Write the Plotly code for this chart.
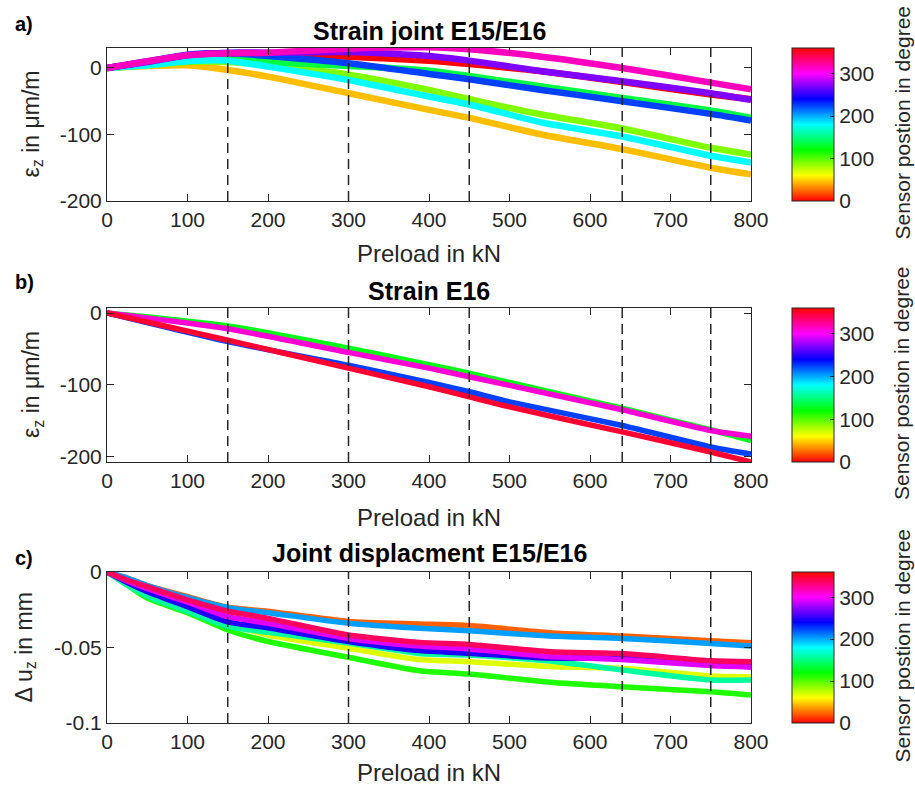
import colorsys
import plotly.graph_objects as go

W, H = 915, 786

# ---------------- data ----------------
# Panel a: Strain joint E15/E16
preload_a = [0, 50, 100, 150, 200, 300, 400, 450, 540, 640, 750, 800]
angles_a = [0, 45, 90, 135, 180, 225, 270, 315]
strain_a_0 = [0, 9, 19, 22, 21, 17, 11, 6, -5, -21, -40, -47]
strain_a_45 = [0, 3, 4, -3, -13, -38, -63, -75, -100, -122, -150, -160]
strain_a_90 = [0, 4, 9, 9, 4, -10, -33, -47, -70, -91, -120, -130]
strain_a_135 = [0, 5, 11, 14, 9, 3, -4, -12, -28, -45, -64, -75]
strain_a_180 = [0, 4, 10, 11, 2, -18, -43, -55, -82, -103, -132, -142]
strain_a_225 = [0, 10, 20, 22, 18, 7, -9, -17, -33, -50, -69, -79]
strain_a_270 = [0, 9, 19, 23, 23, 24, 18, 11, -5, -20, -38, -48]
strain_a_315 = [0, 10, 19, 22, 23, 29, 31, 28, 17, 0, -22, -32]

# Panel b: Strain E16
preload_b = [0, 150, 300, 400, 450, 500, 640, 750, 800]
angles_b = [125, 225, 310, 348]
strain_b_125 = [0, -18, -49, -72, -84, -97, -133, -163, -178]
strain_b_225 = [0, -40, -73, -97, -110, -124, -157, -187, -197]
strain_b_310 = [0, -22, -55, -77, -89, -101, -135, -164, -172]
strain_b_348 = [0, -38, -77, -103, -117, -131, -166, -194, -208]

# Panel c: Joint displacement E15/E16
preload_c = [0, 25, 50, 100, 150, 200, 300, 388, 450, 550, 640, 750, 800]
angles_c = [22.5, 67.5, 112.5, 157.5, 202.5, 247.5, 292.5, 337.5]
disp_c_22 = [0, -0.004, -0.009, -0.0163, -0.0234, -0.026, -0.0327, -0.0344, -0.0355, -0.0402, -0.0424, -0.0455, -0.0468]
disp_c_67 = [0, -0.007, -0.013, -0.024, -0.034, -0.0417, -0.0505, -0.058, -0.0594, -0.0626, -0.0638, -0.0689, -0.0693]
disp_c_112 = [0, -0.0086, -0.0173, -0.027, -0.0384, -0.046, -0.0565, -0.0654, -0.0676, -0.073, -0.076, -0.0793, -0.0815]
disp_c_157 = [0, -0.0086, -0.016, -0.026, -0.036, -0.040, -0.047, -0.054, -0.055, -0.059, -0.0649, -0.0715, -0.0715]
disp_c_202 = [0, -0.004, -0.009, -0.017, -0.0236, -0.027, -0.034, -0.0373, -0.0389, -0.0424, -0.044, -0.0473, -0.049]
disp_c_247 = [0, -0.007, -0.013, -0.023, -0.033, -0.037, -0.046, -0.052, -0.0538, -0.057, -0.057, -0.060, -0.061]
disp_c_292 = [0, -0.006, -0.011, -0.020, -0.0296, -0.034, -0.044, -0.049, -0.051, -0.056, -0.058, -0.062, -0.063]
disp_c_337 = [0, -0.0053, -0.0097, -0.0185, -0.026, -0.0307, -0.0417, -0.0466, -0.048, -0.0528, -0.054, -0.0588, -0.0594]

load_stages = [150, 300, 450, 640, 750]
x_ticks = [0, 100, 200, 300, 400, 500, 600, 700, 800]
x_ticktext = ["0", "100", "200", "300", "400", "500", "600", "700", "800"]
ya_ticks = [0, -100, -200]
ya_ticktext = ["0", "-100", "-200"]
yb_ticks = [0, -100, -200]
yb_ticktext = ["0", "-100", "-200"]
yc_ticks = [0, -0.05, -0.1]
yc_ticktext = ["0", "-0.05", "-0.1"]
cb_ticks = [0, 100, 200, 300]
cb_ticktext = ["0", "100", "200", "300"]

series_a = [strain_a_0, strain_a_45, strain_a_90, strain_a_135,
            strain_a_180, strain_a_225, strain_a_270, strain_a_315]
series_b = [strain_b_125, strain_b_225, strain_b_310, strain_b_348]
series_c = [disp_c_22, disp_c_67, disp_c_112, disp_c_157,
            disp_c_202, disp_c_247, disp_c_292, disp_c_337]

# ---------------- style ----------------
FONT = "Liberation Sans, Arial, sans-serif"
TXT = "#262626"


def hsv_color(angle):
    r, g, b = colorsys.hsv_to_rgb((angle / 360.0) % 1.0, 1, 1)
    return "rgb(%d,%d,%d)" % (round(r * 255), round(g * 255), round(b * 255))


hsv_scale = [[0, "rgb(255,0,0)"], [1 / 6, "rgb(255,255,0)"], [1 / 3, "rgb(0,255,0)"],
             [1 / 2, "rgb(0,255,255)"], [2 / 3, "rgb(0,0,255)"], [5 / 6, "rgb(255,0,255)"],
             [1, "rgb(255,0,0)"]]


def px(x):
    return x / W


def py(y):
    return 1 - y / H


fig = go.Figure()

panels = [
    dict(xa="x", ya="y", xs=preload_a, angles=angles_a, series=series_a, lw=6.5,
         top=48, bot=201),
    dict(xa="x2", ya="y2", xs=preload_b, angles=angles_b, series=series_b, lw=5.5,
         top=308, bot=462),
    dict(xa="x3", ya="y3", xs=preload_c, angles=angles_c, series=series_c, lw=5.5,
         top=572, bot=723),
]

for p in panels:
    for ang, ys in zip(p["angles"], p["series"]):
        fig.add_trace(go.Scatter(x=p["xs"], y=ys, mode="lines", xaxis=p["xa"], yaxis=p["ya"],
                                 line=dict(color=hsv_color(ang), width=p["lw"],
                                           shape="spline", smoothing=0.6),
                                 showlegend=False, hoverinfo="skip"))
    # colorbar carrier
    fig.add_trace(go.Scatter(
        x=[None], y=[None], mode="markers", xaxis=p["xa"], yaxis=p["ya"], showlegend=False,
        hoverinfo="skip",
        marker=dict(color=[0], cmin=0, cmax=360, colorscale=hsv_scale, showscale=True,
                    colorbar=dict(x=px(792), xanchor="left", y=py(p["top"]), yanchor="top",
                                  len=(p["bot"] - p["top"]) / H, lenmode="fraction",
                                  thickness=42, thicknessmode="pixels", xpad=0, ypad=0,
                                  outlinewidth=1, outlinecolor=TXT,
                                  tickvals=cb_ticks, ticktext=cb_ticktext,
                                  ticks="inside", ticklen=4, tickcolor=TXT,
                                  tickfont=dict(family=FONT, size=21, color=TXT)))))

axis_common = dict(showline=True, linecolor=TXT, linewidth=1, mirror="ticks",
                   ticks="inside", ticklen=7, tickcolor=TXT, showgrid=False, zeroline=False,
                   automargin=False, tickfont=dict(family=FONT, size=21, color=TXT))

xdom = [px(107), px(751)]
layout_axes = {}
yinfo = [([-200, 30], ya_ticks, ya_ticktext), ([-208, 7], yb_ticks, yb_ticktext),
         ([-0.1, 0], yc_ticks, yc_ticktext)]
for i, p in enumerate(panels):
    sfx = "" if i == 0 else str(i + 1)
    layout_axes["xaxis" + sfx] = dict(axis_common, domain=xdom, range=[0, 800],
                                      anchor="y" + sfx, tickvals=x_ticks, ticktext=x_ticktext)
    rng, tv, tt = yinfo[i]
    layout_axes["yaxis" + sfx] = dict(axis_common, domain=[py(p["bot"]), py(p["top"])],
                                      range=rng, anchor="x" + sfx, tickvals=tv, ticktext=tt)

shapes = []
for i, p in enumerate(panels):
    sfx = "" if i == 0 else str(i + 1)
    for s in load_stages:
        shapes.append(dict(type="line", xref="x" + sfx, yref="y" + sfx + " domain",
                           x0=s, x1=s, y0=0, y1=1, layer="above",
                           line=dict(color=TXT, width=1.5, dash="10px,6px")))

annotations = []


def add_text(text, x, y, size, bold=False, angle=0):
    annotations.append(dict(text=("<b>%s</b>" % text) if bold else text, x=px(x), y=py(y),
                            xref="paper", yref="paper", xanchor="center", yanchor="middle",
                            showarrow=False, textangle=angle,
                            font=dict(family=FONT, size=size, color=TXT if not bold else "#000")))


titles = ["Strain joint E15/E16", "Strain E16", "Joint displacment E15/E16"]
letters = ["a)", "b)", "c)"]
letter_y = [24, 282, 558]
title_y = [31, 291, 553]
xlabel_y = [253, 517, 772]
ylabels = ["ε<sub>z</sub> in μm/m", "ε<sub>z</sub> in μm/m", "Δ u<sub>z</sub> in mm"]
ylabel_x = [32, 32, 25]
for i, p in enumerate(panels):
    add_text(letters[i], 24, letter_y[i], 20, bold=True)
    add_text(titles[i], 429, title_y[i], 25, bold=True)
    add_text("Preload in kN", 429, xlabel_y[i], 24)
    add_text(ylabels[i], ylabel_x[i], (p["top"] + p["bot"]) / 2, 23, angle=-90)
    add_text("Sensor postion in degree", 902, (p["top"] + p["bot"]) / 2 - 2, 21, angle=-90)

fig.update_layout(width=W, height=H, autosize=False,
                  margin=dict(l=0, r=0, t=0, b=0, pad=0, autoexpand=False),
                  paper_bgcolor="white", plot_bgcolor="white", showlegend=False,
                  shapes=shapes, annotations=annotations, **layout_axes)

fig.write_html("out.html", config={"displayModeBar": False},
               post_script="document.body.style.margin='0px';document.body.style.padding='0px';")
